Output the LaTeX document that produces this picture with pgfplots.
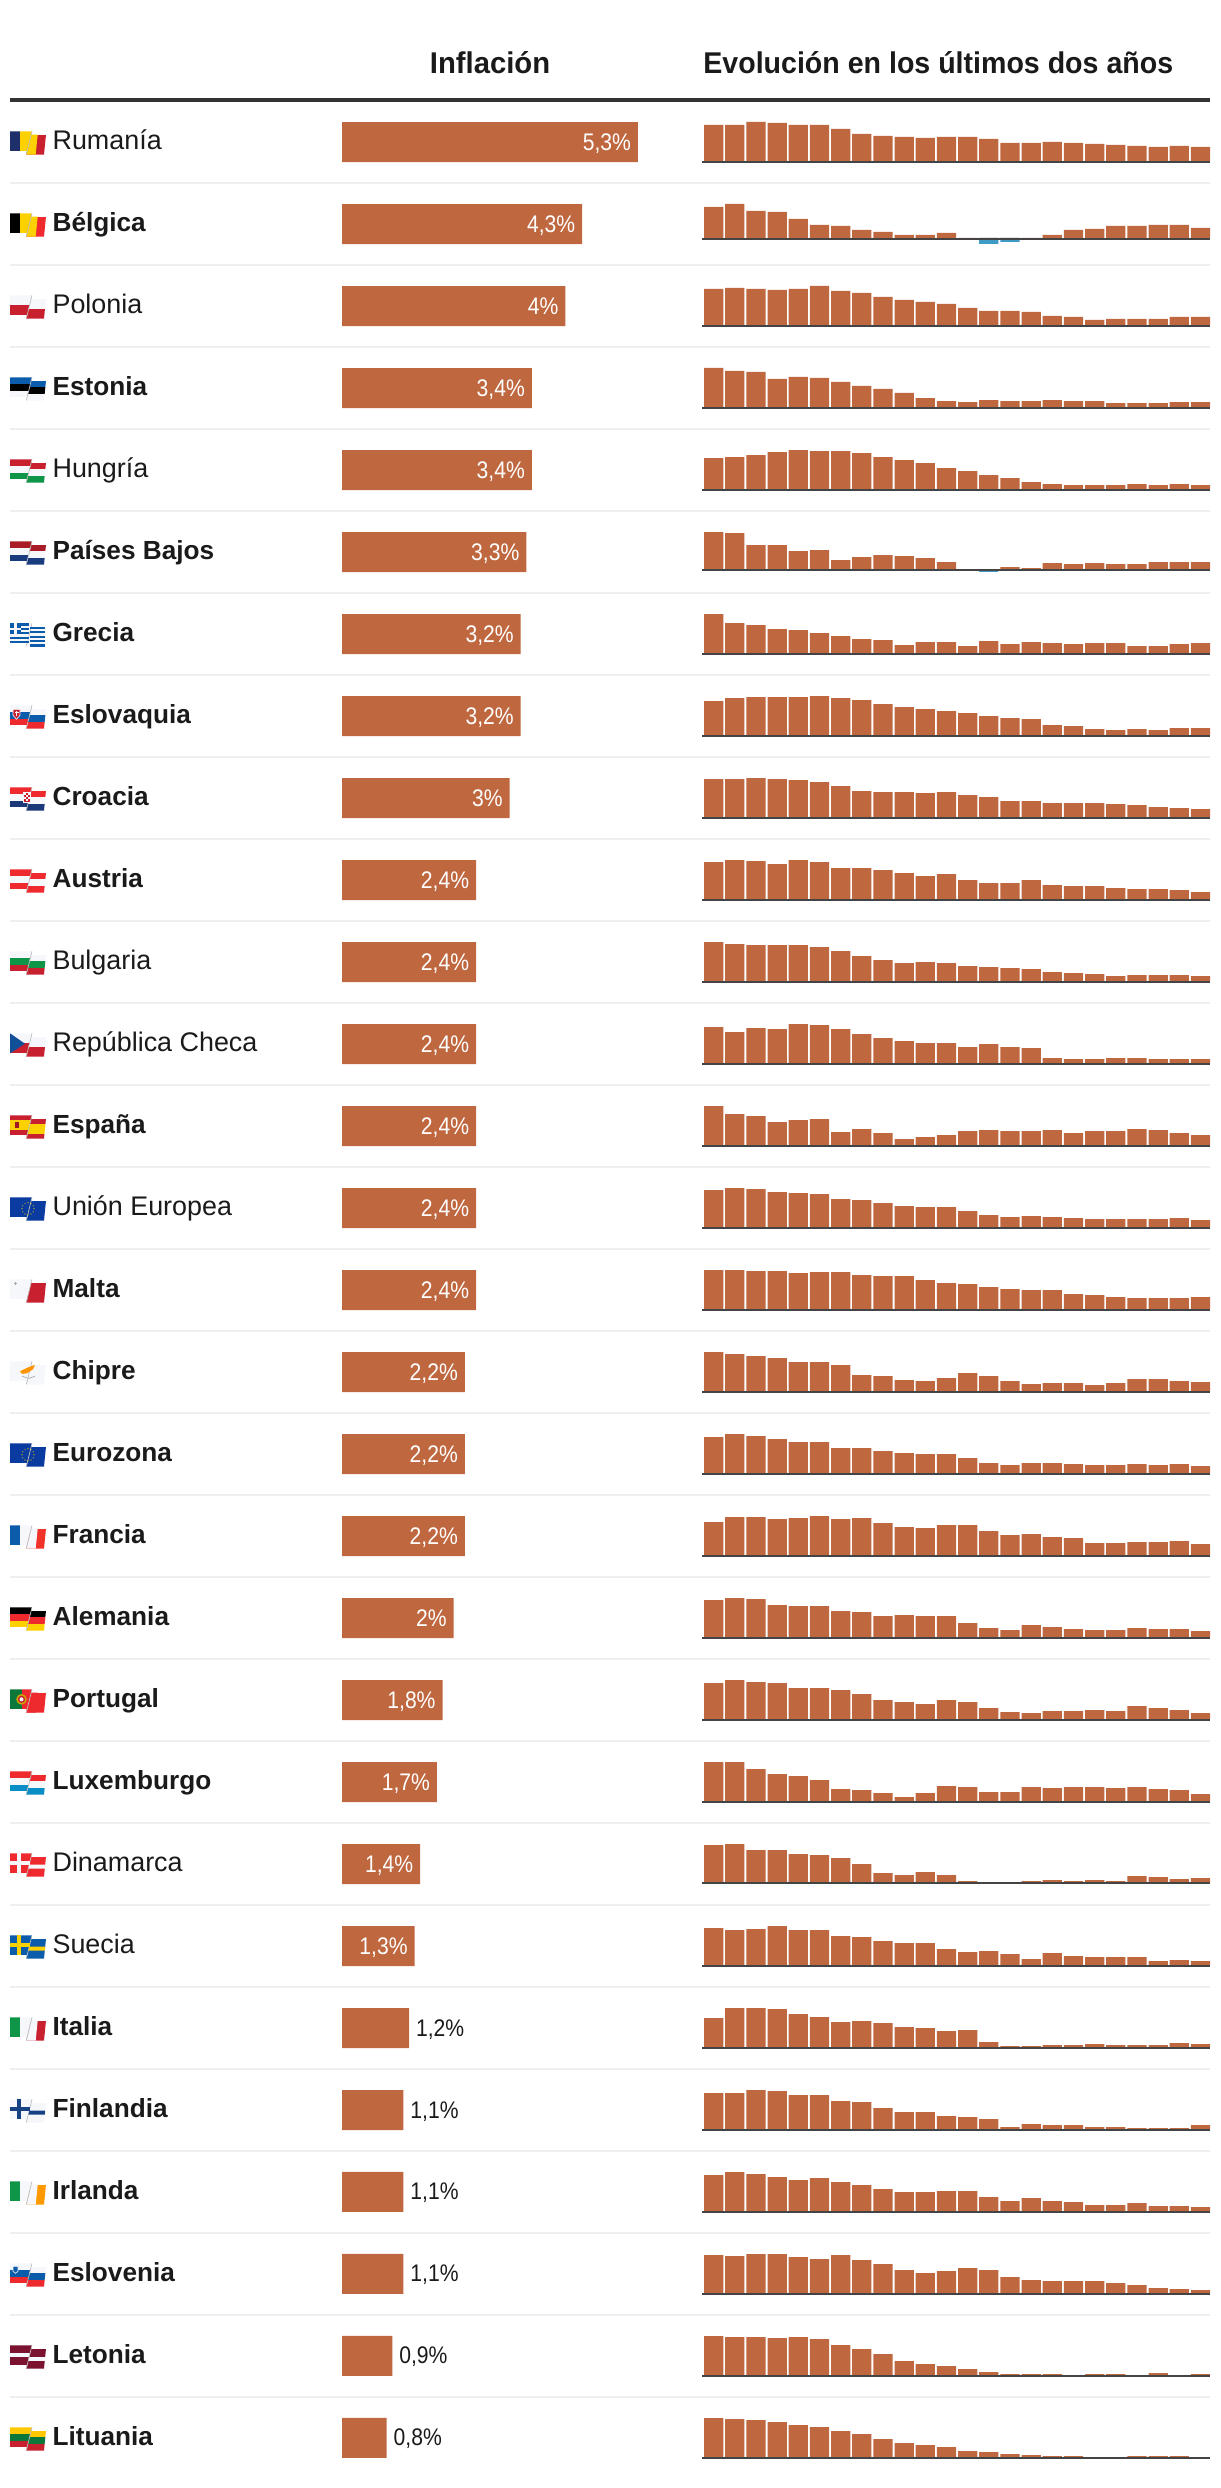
\documentclass[border=0pt]{standalone}
\usepackage{fontspec}
\usepackage{pgfplots}
\pgfplotsset{compat=1.18}
\setmainfont{Liberation Sans}
\newfontfamily\hdA{Liberation Sans}[FakeStretch=0.975]
\newfontfamily\hdB{Liberation Sans}[FakeStretch=0.952]
\newfontfamily\valf{Liberation Sans}[FakeStretch=0.88]
\definecolor{barc}{HTML}{BF673F}
\definecolor{negc}{HTML}{3F9AC4}
\definecolor{basec}{HTML}{444444}
\definecolor{sepc}{HTML}{EEEEEE}
\definecolor{headc}{HTML}{333333}
\definecolor{txtc}{HTML}{1A1A1A}
\definecolor{fw}{HTML}{F6F7FB}
\definecolor{navy}{HTML}{1F2F6B}
\definecolor{yel}{HTML}{FDD000}
\definecolor{rd}{HTML}{C8202F}
\definecolor{brd}{HTML}{EE2A2E}
\definecolor{grn}{HTML}{0F9548}
\definecolor{blu}{HTML}{0B5CAB}
\definecolor{eub}{HTML}{0A3BA0}
\definecolor{mar}{HTML}{7A1230}
\newcommand\leftp{(10,0)--(32,0)--(27.5,20)--(10,20)--cycle}
\newcommand\rightp{(31.2,3.4)--(46,3.4)--(44,23.4)--(26,23.4)--cycle}
\newcommand\fold{\draw[black!25,line width=.35pt] (32,0)--(26.4,23);}
% horizontal stripes: row, c1, c2, c3, limit 1, limit 2, extra
\newcommand\hflag[7]{%
 \begin{scope}[x=.5pt,y=-.5pt,shift={(0pt,{-(131.3+82*#1)*0.5pt})}]
 \begin{scope}\clip \leftp;
  \fill[#2] (10,0) rectangle (32,#5);
  \fill[#3] (10,#5) rectangle (32,#6);
  \fill[#4] (10,#6) rectangle (32,20);
 \end{scope}
 \begin{scope}\clip \rightp;
  \fill[#2] (26,3.4) rectangle (46,#5+3.4);
  \fill[#3] (26,#5+3.4) rectangle (46,#6+3.4);
  \fill[#4] (26,#6+3.4) rectangle (46,23.4);
 \end{scope}
 \fold #7
 \end{scope}}
% vertical stripes: row, c1, c2, c3, split left, split right, extra
\newcommand\vflag[7]{%
 \begin{scope}[x=.5pt,y=-.5pt,shift={(0pt,{-(131.3+82*#1)*0.5pt})}]
 \begin{scope}\clip \leftp;
  \fill[#2] (10,0) rectangle (#5,20);
  \fill[#3] (#5,0) rectangle (32,20);
 \end{scope}
 \begin{scope}\clip \rightp;
  \fill[#4] (26,3.4) rectangle (46,23.4);
  \fill[#3] (26,3.4)--(#6+1,3.4)--(#6-1,23.4)--(26,23.4)--cycle;
 \end{scope}
 \fold #7
 \end{scope}}
\newcommand\crossf[1]{%
 \fill[#1] (10,8) rectangle (30.4,12);
 \fill[#1] (29.4,11.4)--(45.2,11.4)--(44.8,15.4)--(28.4,15.4)--cycle;
 \fill[#1] (17,0) rectangle (21,20);}
\newcommand\euroc{%
 \foreach \a in {0,30,...,330}{\fill[yel] ({28+6*cos(\a)},{11.5+6*sin(\a)}) circle (.6);}}
\newcommand\grcext{%
 \foreach \k in {0,2,4,6,8}{\fill[blu] (10,{\k*2.22}) rectangle (29,{(\k+1)*2.22});
  \fill[blu] (30,{\k*2.22+3.4}) rectangle (45.4,{(\k+1)*2.22+3.4});}
 \fill[blu] (10,0) rectangle (21,11.1);
 \fill[fw] (14.3,0) rectangle (16.7,11.1);
 \fill[fw] (10,4.4) rectangle (21,6.7);}
% sparkline: row, baseline shift, values, extra plot
\newcommand\spark[4]{%
 \begin{axis}[at={(702*0.5pt,{-(169+82*#1+#2)*0.5pt})},anchor=south west,
  scale only axis,width=254pt,height=25pt,xmin=-0.55,xmax=23.45,ymin=-8,ymax=42,
  axis lines=none,ticks=none,clip=false,ybar,bar width=9.65pt,bar shift=0pt]
  \addplot[draw=none,fill=barc] table[row sep=\\,header=false,x expr=\coordindex,y index=0] {#3};
  #4
  \draw[basec,line width=1pt] (axis cs:-0.55,-1)--(axis cs:23.45,-1);
 \end{axis}}
% regular names are set a little larger than bold ones, to match their widths
\newcommand\rowname[3]{\node[anchor=base west,inner sep=0pt,text=txtc,font=#2] at (52.2*0.5pt,{-(149.3+82*#1)*0.5pt}) {#3};}
\newcommand\rg{\fontsize{13.45}{15}\selectfont}
\newcommand\bd{\fontsize{13.1}{15}\selectfont\bfseries}
\begin{document}
\begin{tikzpicture}
\path[use as bounding box] (0,0) rectangle (1220*0.5pt,-2488*0.5pt);
% headers
\node[anchor=base,inner sep=0pt,text=txtc,font=\hdA\fontsize{15}{17}\selectfont\bfseries] at (490*0.5pt,-74*0.5pt) {Inflación};
\node[anchor=base west,inner sep=0pt,text=txtc,font=\hdB\fontsize{15}{17}\selectfont\bfseries] at (703*0.5pt,-74*0.5pt) {Evolución en los últimos dos años};
\fill[headc] (10*0.5pt,-98*0.5pt) rectangle (1210*0.5pt,-102*0.5pt);
% separators
\foreach \i in {0,...,27}{\fill[sepc] (10*0.5pt,{-(182+82*\i)*0.5pt}) rectangle (1210*0.5pt,{-(184+82*\i)*0.5pt});}
% country names
\rowname{0}{\rg}{Rumanía}
\rowname{1}{\bd}{Bélgica}
\rowname{2}{\rg}{Polonia}
\rowname{3}{\bd}{Estonia}
\rowname{4}{\rg}{Hungría}
\rowname{5}{\bd}{Países Bajos}
\rowname{6}{\bd}{Grecia}
\rowname{7}{\bd}{Eslovaquia}
\rowname{8}{\bd}{Croacia}
\rowname{9}{\bd}{Austria}
\rowname{10}{\rg}{Bulgaria}
\rowname{11}{\rg}{República Checa}
\rowname{12}{\bd}{España}
\rowname{13}{\rg}{Unión Europea}
\rowname{14}{\bd}{Malta}
\rowname{15}{\bd}{Chipre}
\rowname{16}{\bd}{Eurozona}
\rowname{17}{\bd}{Francia}
\rowname{18}{\bd}{Alemania}
\rowname{19}{\bd}{Portugal}
\rowname{20}{\bd}{Luxemburgo}
\rowname{21}{\rg}{Dinamarca}
\rowname{22}{\rg}{Suecia}
\rowname{23}{\bd}{Italia}
\rowname{24}{\bd}{Finlandia}
\rowname{25}{\bd}{Irlanda}
\rowname{26}{\bd}{Eslovenia}
\rowname{27}{\bd}{Letonia}
\rowname{28}{\bd}{Lituania}
% flags
\vflag{0}{navy}{yel}{rd}{20}{36.7}{}
\vflag{1}{black}{yel}{brd}{20}{36.7}{}
\hflag{2}{fw}{fw}{rd}{10}{10}{}
\hflag{3}{blu}{black}{fw}{6.67}{13.33}{}
\hflag{4}{rd}{fw}{grn}{6.67}{13.33}{}
\hflag{5}{rd!85!black}{fw}{navy!70!blu}{6.67}{13.33}{}
\hflag{6}{fw}{fw}{fw}{6.67}{13.33}{\grcext}
\hflag{7}{fw}{blu}{brd}{6.67}{13.33}{\fill[rd,draw=fw,line width=.3pt] (13,4)--(20,4)--(20,10)--(16.5,14)--(13,10)--cycle; \fill[fw] (16,5.5) rectangle (17,11);\fill[fw] (14.5,7) rectangle (18.5,8);}
\hflag{8}{brd}{fw}{navy!80!blu}{6.67}{13.33}{\fill[rd,draw=fw,line width=.3pt] (23.5,4.5) rectangle (30,15);\foreach \a/\b in {23.5/6,25.7/8,27.9/6,23.5/10,25.7/12,27.9/10}{\fill[fw] (\a,\b) rectangle (\a+2.1,\b+2);}}
\hflag{9}{brd}{fw}{brd}{6.67}{13.33}{}
\hflag{10}{fw}{grn}{rd}{6.67}{13.33}{}
\hflag{11}{fw}{fw}{rd}{10}{10}{\fill[blu!70!navy] (10,0)--(25,10.4)--(10,20)--cycle;}
\hflag{12}{rd}{yel}{rd}{5}{15}{\fill[rd!80!black] (15,7) rectangle (19,13);}
\hflag{13}{eub}{eub}{eub}{6.67}{13.33}{\euroc}
\vflag{14}{fw}{fw}{rd}{20}{26}{\fill[black!35] (14,3.7) rectangle (17,4.9);\fill[black!35] (14.9,2.8) rectangle (16.1,5.8);}
\hflag{15}{fw}{fw}{fw}{6.67}{13.33}{\fill[orange!85!yellow] (20,10)--(27,6.5)--(35,3.5)--(33,8)--(27,12)--(22,12.5)--cycle;\draw[black!30,line width=.4pt] (22,15)--(29,17);\draw[black!30,line width=.4pt] (35,15)--(29,17);}
\hflag{16}{eub}{eub}{eub}{6.67}{13.33}{\euroc}
\vflag{17}{blu}{fw}{brd!90!orange}{20}{36.7}{}
\hflag{18}{black}{brd}{yel}{6.67}{13.33}{}
\vflag{19}{grn!80!black}{brd}{brd}{22}{36.7}{\fill[yel!80!black] (21.5,10) circle (5.3);\fill[rd] (21.5,10) circle (3.6);\fill[fw] (21.5,10) circle (2);}
\hflag{20}{brd}{fw}{blu!70!cyan}{6.67}{13.33}{}
\hflag{21}{brd}{brd}{brd}{6.67}{13.33}{\crossf{fw}}
\hflag{22}{blu}{blu}{blu}{6.67}{13.33}{\crossf{yel}}
\vflag{23}{grn}{fw}{rd}{20}{36.7}{}
\hflag{24}{fw}{fw}{fw}{6.67}{13.33}{\crossf{navy!60!blu}}
\vflag{25}{grn}{fw}{orange!80!yellow}{20}{36.7}{}
\hflag{26}{fw}{blu}{brd}{6.67}{13.33}{\fill[blu,draw=fw,line width=.3pt] (13,3)--(18,3)--(18,8)--(15.5,10)--(13,8)--cycle;}
\hflag{27}{mar}{fw}{mar}{8}{12}{}
\hflag{28}{yel!90!orange}{grn!80!black}{rd}{6.67}{13.33}{}
% inflation bars
\begin{axis}[at={(342*0.5pt,-101*0.5pt)},anchor=north west,scale only axis,
 width=148pt,height=1189pt,xmin=0,xmax=5.3,ymin=-0.5,ymax=28.5,y dir=reverse,
 axis lines=none,ticks=none,clip=false,xbar,bar width=20pt,bar shift=0pt,
 point meta=explicit symbolic,nodes near coords={\pgfplotspointmeta\%}]
\addplot[draw=none,fill=barc,
 every node near coord/.append style={anchor=base east,xshift=-3.3pt,yshift=-4pt,inner sep=0pt,text=white,font=\valf\fontsize{12}{14}\selectfont}]
 table[x=v,y=r,meta=l] {
r v l
0 5.3 5,3
1 4.3 4,3
2 4 4
3 3.4 3,4
4 3.4 3,4
5 3.3 3,3
6 3.2 3,2
7 3.2 3,2
8 3 3
9 2.4 2,4
10 2.4 2,4
11 2.4 2,4
12 2.4 2,4
13 2.4 2,4
14 2.4 2,4
15 2.2 2,2
16 2.2 2,2
17 2.2 2,2
18 2 2
19 1.8 1,8
20 1.7 1,7
21 1.4 1,4
22 1.3 1,3
};
\addplot[draw=none,fill=barc,
 every node near coord/.append style={anchor=base west,xshift=3.3pt,yshift=-4pt,inner sep=0pt,text=txtc,font=\valf\fontsize{12}{14}\selectfont}]
 table[x=v,y=r,meta=l] {
r v l
23 1.2 1,2
24 1.1 1,1
25 1.1 1,1
26 1.1 1,1
27 0.9 0,9
28 0.8 0,8
};
\end{axis}
% sparklines: heights
\spark{0}{0}{36\\36\\39\\38\\36\\36\\32\\27\\25\\24\\23\\24\\24\\22\\18\\18\\19\\18\\17\\16\\15\\14\\15\\14\\}{}
\spark{1}{-5}{31\\34\\27\\26\\19\\13\\12\\8\\6\\3\\3\\5\\0\\0\\0\\0\\3\\8\\9\\12\\12\\13\\13\\10\\}{\addplot[draw=none,fill=negc] coordinates {(13,-6)(14,-4)};}
\spark{2}{0}{36\\37\\36\\35\\36\\39\\34\\32\\28\\25\\23\\21\\17\\14\\14\\13\\9\\8\\5\\6\\6\\6\\8\\8\\}{}
\spark{3}{0}{39\\36\\35\\28\\30\\29\\25\\21\\18\\14\\9\\6\\5\\7\\6\\6\\7\\6\\6\\4\\4\\4\\5\\5\\}{}
\spark{4}{0}{31\\32\\34\\37\\39\\38\\38\\36\\32\\29\\26\\21\\18\\14\\11\\7\\5\\4\\4\\4\\5\\4\\5\\4\\}{}
\spark{5}{-2}{37\\36\\24\\24\\18\\19\\9\\12\\14\\13\\11\\7\\0\\0\\2\\1\\6\\5\\6\\5\\5\\7\\7\\7\\}{\addplot[draw=none,fill=negc] coordinates {(13,-3)};}
\spark{6}{0}{39\\30\\28\\24\\23\\20\\17\\14\\13\\8\\11\\11\\7\\12\\9\\11\\10\\9\\10\\10\\7\\7\\9\\10\\}{}
\spark{7}{0}{34\\37\\38\\38\\38\\39\\37\\35\\31\\28\\26\\24\\22\\19\\17\\16\\10\\9\\6\\5\\6\\5\\7\\7\\}{}
\spark{8}{0}{38\\38\\39\\38\\37\\35\\31\\26\\25\\25\\24\\25\\22\\20\\16\\16\\14\\14\\14\\13\\12\\10\\9\\8\\}{}
\spark{9}{0}{37\\39\\38\\35\\39\\37\\31\\31\\29\\26\\23\\25\\19\\16\\16\\19\\14\\13\\13\\11\\10\\10\\9\\7\\}{}
\spark{10}{0}{39\\37\\36\\36\\36\\34\\30\\25\\21\\18\\19\\18\\15\\14\\13\\12\\9\\8\\7\\5\\6\\6\\6\\5\\}{}
\spark{11}{0}{36\\31\\35\\34\\39\\38\\34\\29\\25\\22\\20\\20\\16\\19\\16\\15\\5\\4\\4\\5\\5\\4\\4\\4\\}{}
\spark{12}{0}{39\\31\\29\\23\\25\\26\\13\\16\\12\\6\\8\\10\\14\\15\\14\\14\\15\\12\\14\\14\\16\\15\\12\\10\\}{}
\spark{13}{0}{37\\39\\38\\35\\34\\33\\28\\27\\24\\21\\20\\20\\16\\12\\10\\11\\10\\9\\8\\8\\8\\8\\9\\7\\}{}
\spark{14}{0}{39\\39\\38\\38\\36\\37\\37\\34\\33\\33\\29\\26\\25\\22\\20\\19\\19\\15\\14\\12\\11\\11\\11\\12\\}{}
\spark{15}{0}{39\\37\\35\\33\\29\\29\\26\\16\\15\\11\\10\\13\\18\\15\\10\\7\\8\\8\\6\\8\\12\\12\\10\\9\\}{}
\spark{16}{0}{36\\39\\37\\34\\31\\31\\25\\25\\22\\20\\19\\19\\15\\10\\8\\10\\10\\9\\8\\8\\9\\8\\9\\7\\}{}
\spark{17}{0}{33\\38\\38\\36\\37\\39\\36\\37\\32\\28\\27\\30\\30\\24\\20\\21\\18\\17\\12\\12\\13\\13\\14\\11\\}{}
\spark{18}{0}{37\\39\\38\\32\\31\\31\\26\\25\\21\\22\\21\\21\\14\\9\\7\\12\\10\\8\\7\\7\\9\\8\\8\\6\\}{}
\spark{19}{0}{36\\39\\37\\36\\31\\31\\29\\25\\19\\17\\15\\19\\17\\11\\7\\6\\8\\8\\9\\8\\13\\11\\9\\6\\}{}
\spark{20}{0}{39\\39\\32\\27\\25\\21\\12\\11\\8\\4\\8\\15\\14\\9\\9\\14\\13\\14\\14\\13\\14\\12\\11\\7\\}{}
\spark{21}{-1}{37\\38\\32\\32\\28\\27\\24\\18\\9\\7\\10\\7\\1\\0\\0\\1\\2\\1\\2\\1\\6\\5\\3\\4\\}{}
\spark{22}{0}{37\\35\\36\\39\\35\\35\\29\\28\\24\\22\\22\\16\\13\\14\\11\\6\\12\\9\\8\\8\\8\\4\\5\\4\\}{}
\spark{23}{0}{29\\39\\39\\38\\33\\30\\25\\26\\24\\20\\19\\16\\17\\5\\1\\1\\2\\2\\3\\2\\2\\2\\4\\3\\}{}
\spark{24}{0}{36\\36\\39\\38\\34\\34\\28\\27\\21\\17\\17\\13\\12\\10\\2\\5\\4\\4\\2\\2\\1\\1\\1\\4\\}{}
\spark{25}{0}{36\\39\\37\\34\\31\\33\\29\\26\\22\\19\\19\\20\\20\\14\\10\\13\\10\\9\\6\\6\\8\\5\\5\\4\\}{}
\spark{26}{0}{38\\37\\39\\39\\36\\34\\38\\33\\29\\23\\20\\22\\25\\23\\16\\13\\12\\12\\12\\10\\8\\5\\4\\3\\}{}
\spark{27}{0}{39\\38\\38\\37\\38\\36\\30\\26\\21\\14\\11\\9\\6\\3\\1\\1\\1\\0\\1\\1\\0\\2\\0\\1\\}{}
\spark{28}{0}{39\\38\\37\\35\\32\\30\\26\\23\\18\\14\\12\\10\\6\\5\\3\\2\\1\\1\\0\\0\\1\\1\\1\\0\\}{}
\end{tikzpicture}
\end{document}
